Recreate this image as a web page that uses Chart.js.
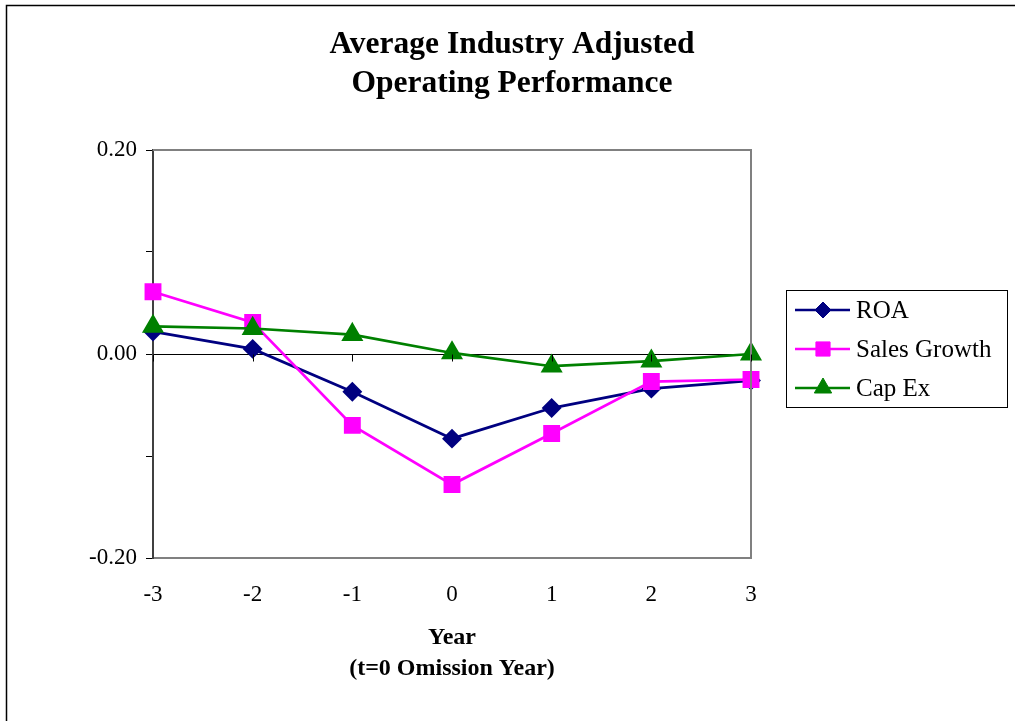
<!DOCTYPE html>
<html>
<head>
<meta charset="utf-8">
<title>Average Industry Adjusted Operating Performance</title>
<script src="https://cdn.jsdelivr.net/npm/chart.js@4/dist/chart.umd.min.js"></script>
<style>
  html, body { margin: 0; padding: 0; background: #fff; }
  canvas { display: block; }
</style>
</head>
<body>
<canvas id="chart" width="1015" height="721"></canvas>
<script>
// Event-time categories (years relative to the omission year)
const categories = ['-3', '-2', '-1', '0', '1', '2', '3'];

// Industry-adjusted measures by year
const roa = [0.022, 0.005, -0.037, -0.083, -0.053, -0.034, -0.026];
const salesGrowth = [0.061, 0.031, -0.070, -0.128, -0.078, -0.027, -0.025];
const capEx = [0.027, 0.025, 0.019, 0.001, -0.012, -0.007, 0.000];

const seriesNames = ['ROA', 'Sales Growth', 'Cap Ex'];
const titleLines = ['Average Industry Adjusted', 'Operating Performance'];
const xTitleLines = ['Year', '(t=0 Omission Year)'];
const yLabelledTicks = [0.2, 0, -0.2];

const SERIF = "'Liberation Serif', 'Times New Roman', serif";

// Frame, zero-axis ticks, title and legend drawn on the canvas
const decorations = {
  id: 'decorations',
  beforeDraw(chart) {
    const ctx = chart.ctx;
    ctx.save();
    ctx.strokeStyle = '#000';
    ctx.lineWidth = 1.5;
    ctx.beginPath();
    ctx.moveTo(6.5, 730);
    ctx.lineTo(6.5, 5.5);
    ctx.lineTo(1030, 5.5);
    ctx.stroke();
    ctx.restore();
  },
  afterDraw(chart) {
    const ctx = chart.ctx;
    const area = chart.chartArea;
    const x = chart.scales.x, y = chart.scales.y;
    ctx.save();
    // top and right edges of the plot frame
    ctx.strokeStyle = '#808080';
    ctx.lineWidth = 2;
    ctx.beginPath();
    ctx.moveTo(area.left, area.top);
    ctx.lineTo(area.right, area.top);
    ctx.lineTo(area.right, area.bottom);
    ctx.stroke();
    // category ticks hanging below the zero line
    const y0 = Math.round(y.getPixelForValue(0)) + 0.5;
    ctx.strokeStyle = '#000';
    ctx.lineWidth = 1;
    ctx.beginPath();
    categories.forEach((c, i) => {
      const px = Math.round(x.getPixelForValue(i)) + 0.5;
      ctx.moveTo(px, y0);
      ctx.lineTo(px, y0 + 7);
    });
    ctx.stroke();

    // title
    ctx.fillStyle = '#000';
    ctx.font = 'bold 31.5px ' + SERIF;
    ctx.textAlign = 'center';
    ctx.textBaseline = 'middle';
    titleLines.forEach((t, i) => ctx.fillText(t, 512, 45 + i * 39));

    // legend
    const lx = 786, ly = 290, lw = 221, lh = 117;
    ctx.fillStyle = '#fff';
    ctx.fillRect(lx, ly, lw, lh);
    ctx.strokeStyle = '#000';
    ctx.lineWidth = 1;
    ctx.strokeRect(lx + 0.5, ly + 0.5, lw, lh);
    const rows = [310, 349, 388];
    chart.data.datasets.forEach((ds, i) => {
      const ry = rows[i];
      ctx.strokeStyle = ds.borderColor;
      ctx.lineWidth = 2.5;
      ctx.beginPath();
      ctx.moveTo(795, ry);
      ctx.lineTo(850, ry);
      ctx.stroke();
      ctx.fillStyle = ds.pointBackgroundColor;
      ctx.strokeStyle = ds.pointBorderColor;
      ctx.lineWidth = 1;
      Chart.helpers.drawPoint(ctx, {
        pointStyle: ds.pointStyle,
        radius: ds.pointRadius,
        borderWidth: 1,
        rotation: 0
      }, 823, ry);
      ctx.fillStyle = '#000';
      ctx.font = '25px ' + SERIF;
      ctx.textAlign = 'left';
      ctx.textBaseline = 'middle';
      ctx.fillText(ds.label, 856, ry + 1);
    });
    ctx.restore();
  }
};

new Chart(document.getElementById('chart'), {
  type: 'line',
  data: {
    labels: categories,
    datasets: [
      {
        label: seriesNames[0], data: roa, order: 3,
        borderColor: '#000080', backgroundColor: '#000080',
        pointBackgroundColor: '#000080', pointBorderColor: '#000080',
        pointStyle: 'rectRot', pointRadius: 8, borderWidth: 2.75, clip: false
      },
      {
        label: seriesNames[1], data: salesGrowth, order: 2,
        borderColor: '#FF00FF', backgroundColor: '#FF00FF',
        pointBackgroundColor: '#FF00FF', pointBorderColor: '#FF00FF',
        pointStyle: 'rect', pointRadius: 10, borderWidth: 2.75, clip: false
      },
      {
        label: seriesNames[2], data: capEx, order: 1,
        borderColor: '#008000', backgroundColor: '#008000',
        pointBackgroundColor: '#008000', pointBorderColor: '#008000',
        pointStyle: 'triangle', pointRadius: 10, borderWidth: 2.75, clip: false
      }
    ]
  },
  options: {
    responsive: false,
    animation: false,
    events: [],
    layout: { padding: { left: 53, right: 264, top: 150, bottom: 0 } },
    plugins: {
      legend: { display: false },
      title: { display: false },
      tooltip: { enabled: false }
    },
    elements: { line: { tension: 0 } },
    scales: {
      x: {
        offset: false,
        afterFit(scale) { scale.height = 163; },
        grid: { display: false, drawTicks: false },
        border: { display: true, color: '#808080', width: 2 },
        ticks: {
          color: '#000', padding: 23, maxRotation: 0, autoSkip: false,
          font: { family: SERIF, size: 23 }
        },
        title: {
          display: true, text: xTitleLines, color: '#000',
          font: { family: SERIF, size: 24, weight: 'bold', lineHeight: '31px' },
          padding: { top: 0, bottom: 36.5 }
        }
      },
      y: {
        min: -0.2, max: 0.2,
        afterFit(scale) { scale.width = 100; },
        afterBuildTicks(scale) {
          scale.ticks = [0.2, 0.1, 0, -0.1, -0.2].map(v => ({ value: v }));
        },
        grid: {
          drawTicks: true, tickLength: 7, tickColor: '#000', lineWidth: 1,
          color: c => (c.tick && c.tick.value === 0 ? '#000' : 'rgba(0,0,0,0)')
        },
        border: { display: true, color: '#404040', width: 2 },
        ticks: {
          color: '#000', padding: 9,
          font: { family: SERIF, size: 23 },
          callback: v => (yLabelledTicks.some(t => Math.abs(t - v) < 1e-9) ? Number(v).toFixed(2) : '')
        }
      }
    }
  },
  plugins: [decorations]
});
</script>
</body>
</html>
